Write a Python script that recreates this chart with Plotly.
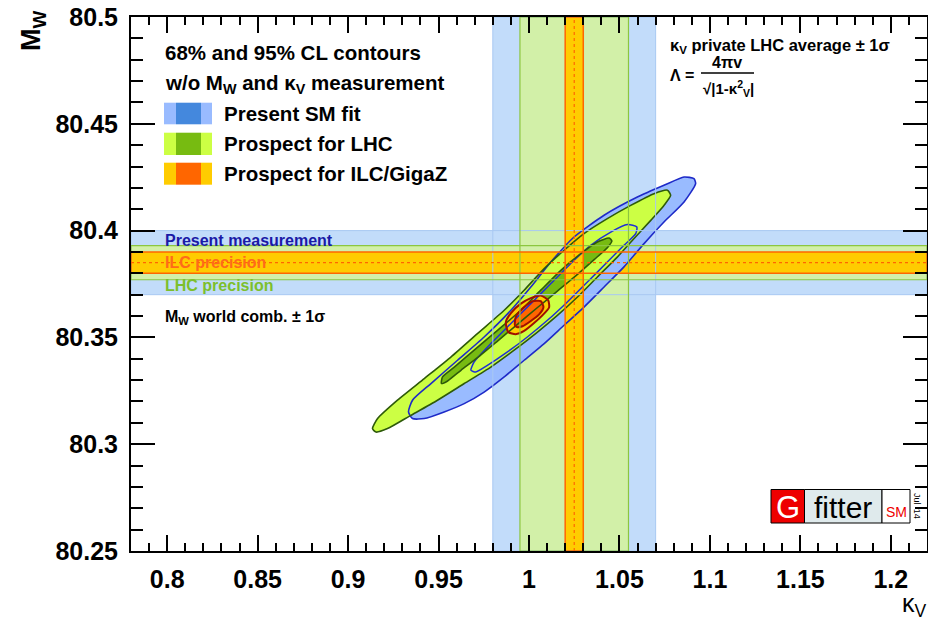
import plotly.graph_objects as go

# ---------------- data ----------------
k_range = [0.78, 1.22]
mw_range = [80.25, 80.5]
k_ticks = [0.8, 0.85, 0.9, 0.95, 1.0, 1.05, 1.1, 1.15, 1.2]
k_ticklabels = ["0.8", "0.85", "0.9", "0.95", "1", "1.05", "1.1", "1.15", "1.2"]
mw_ticks = [80.25, 80.3, 80.35, 80.4, 80.45, 80.5]
mw_ticklabels = ["80.25", "80.3", "80.35", "80.4", "80.45", "80.5"]

# M_W world combination +- 1 sigma and future precisions
mw_center = 80.385
mw_err_present = 0.015
mw_err_lhc = 0.008
mw_err_ilc = 0.005
# kappa_V private LHC average +- 1 sigma and future precisions
kv_center = 1.025
kv_err_present = 0.045
kv_err_lhc = 0.030
kv_err_ilc = 0.005

# Present SM fit, 95% CL contour
sm95_k = [1.0921, 1.0857, 1.0746, 1.0636, 1.0525, 1.0415, 1.0304, 1.0194, 1.0084, 0.9973,
          0.9863, 0.9752, 0.9642, 0.9531, 0.9421, 0.9356, 0.9334, 0.9356, 0.9458, 0.9605,
          0.9752, 0.9900, 1.0010, 1.0121, 1.0249, 1.0415, 1.0599, 1.0746, 1.0857, 1.0912]
sm95_mw = [80.4220, 80.4134, 80.4040, 80.3939, 80.3830, 80.3736, 80.3642, 80.3557, 80.3471, 80.3393,
           80.3315, 80.3244, 80.3190, 80.3151, 80.3120, 80.3120, 80.3151, 80.3206, 80.3284, 80.3393,
           80.3502, 80.3627, 80.3736, 80.3853, 80.3970, 80.4072, 80.4157, 80.4212, 80.4251, 80.4243]
# Present SM fit, 68% CL contour
sm68_k = [0.9679, 0.9697, 0.9789, 0.9900, 1.0010, 1.0121, 1.0231, 1.0341, 1.0452, 1.0544,
          1.0596, 1.0590, 1.0525, 1.0433, 1.0323, 1.0212, 1.0102, 0.9991, 0.9881, 0.9770, 0.9706]
sm68_mw = [80.3346, 80.3385, 80.3471, 80.3565, 80.3658, 80.3752, 80.3846, 80.3931, 80.3993, 80.4028,
           80.4017, 80.3986, 80.3931, 80.3853, 80.3759, 80.3666, 80.3580, 80.3502, 80.3432, 80.3369, 80.3338]
# Prospect for LHC, 95% CL contour
lhc95_k = [0.9135, 0.9163, 0.9273, 0.9421, 0.9568, 0.9715, 0.9863, 0.9973, 1.0084, 1.0194,
           1.0304, 1.0433, 1.0562, 1.0691, 1.0765, 1.0783, 1.0746, 1.0673, 1.0581, 1.0488,
           1.0378, 1.0268, 1.0157, 1.0047, 0.9918, 0.9789, 0.9642, 0.9494, 0.9347, 0.9218, 0.9154]
lhc95_mw = [80.3073, 80.3120, 80.3206, 80.3307, 80.3408, 80.3518, 80.3627, 80.3721, 80.3822, 80.3908,
            80.3986, 80.4056, 80.4118, 80.4173, 80.4189, 80.4165, 80.4118, 80.4048, 80.3963, 80.3876,
            80.3783, 80.3689, 80.3603, 80.3525, 80.3440, 80.3361, 80.3284, 80.3206, 80.3135, 80.3073, 80.3057]
# Prospect for LHC, 68% CL contour
lhc68_k = [0.9516, 0.9522, 0.9587, 0.9697, 0.9826, 0.9955, 1.0065, 1.0176, 1.0286, 1.0378, 1.0443,
           1.0458, 1.0433, 1.0360, 1.0268, 1.0157, 1.0047, 0.9936, 0.9826, 0.9715, 0.9624, 0.9550]
lhc68_mw = [80.3284, 80.3315, 80.3361, 80.3440, 80.3533, 80.3627, 80.3721, 80.3814, 80.3892, 80.3947, 80.3965,
            80.3951, 80.3920, 80.3864, 80.3795, 80.3717, 80.3640, 80.3561, 80.3483, 80.3405, 80.3346, 80.3296]
# Prospect for ILC/GigaZ, 95% CL contour
ilc95_k = [0.9885, 0.9872, 0.9900, 0.9955, 1.0010, 1.0065, 1.0106, 1.0111, 1.0074, 1.0028, 0.9973, 0.9927]
ilc95_mw = [80.3525, 80.3572, 80.3614, 80.3658, 80.3684, 80.3696, 80.3674, 80.3640, 80.3603, 80.3567, 80.3530, 80.3515]
# Prospect for ILC/GigaZ, 68% CL contour
ilc68_k = [0.9922, 0.9927, 0.9964, 1.0019, 1.0065, 1.0080, 1.0056, 1.0010, 0.9964, 0.9933]
ilc68_mw = [80.3557, 80.3596, 80.3635, 80.3669, 80.3670, 80.3642, 80.3608, 80.3577, 80.3552, 80.3549]

legend_labels = ["Present SM fit", "Prospect for LHC", "Prospect for ILC/GigaZ"]

# ---------------- styles ----------------
FONT = "Liberation Sans, Arial, Helvetica, sans-serif"
SM_LIGHT, SM_DARK, SM_LINE = "#99bbff", "#4488dd", "#1e2ac8"
LHC_LIGHT, LHC_DARK, LHC_LINE = "#ccff44", "#77bb11", "#2e5a0a"
ILC_LIGHT, ILC_DARK, ILC_LINE = "#ffcc00", "#ff6600", "#a01000"
BAND_BLUE, BAND_BLUE_EDGE = "#c2dcfa", "#a8c8f2"
BAND_GREEN, BAND_GREEN_EDGE = "#d2f0a8", "#8cc63f"
BAND_ORANGE, BAND_ORANGE_EDGE = "#ffcc00", "#ff6600"


def closed(xs, ys):
    return list(xs) + [xs[0]], list(ys) + [ys[0]]


def hrect(c, e):
    return ([k_range[0], k_range[1], k_range[1], k_range[0], k_range[0]],
            [c - e, c - e, c + e, c + e, c - e])


def vrect(c, e):
    return ([c - e, c + e, c + e, c - e, c - e],
            [mw_range[0], mw_range[0], mw_range[1], mw_range[1], mw_range[0]])


def fill(xy, color, spline=False):
    x, y = xy
    return go.Scatter(x=x, y=y, mode="lines", fill="toself", fillcolor=color,
                      line=dict(width=0, color=color, shape="spline" if spline else "linear",
                                smoothing=0.6),
                      hoverinfo="skip", showlegend=False)


def outline(xy, color, width, spline=False, dash="solid"):
    x, y = xy
    return go.Scatter(x=x, y=y, mode="lines",
                      line=dict(width=width, color=color, dash=dash,
                                shape="spline" if spline else "linear", smoothing=0.6),
                      hoverinfo="skip", showlegend=False)


fig = go.Figure()

# bands (fills)
fig.add_trace(fill(hrect(mw_center, mw_err_present), BAND_BLUE))
fig.add_trace(fill(vrect(kv_center, kv_err_present), BAND_BLUE))
fig.add_trace(fill(hrect(mw_center, mw_err_lhc), BAND_GREEN))
fig.add_trace(fill(vrect(kv_center, kv_err_lhc), BAND_GREEN))
fig.add_trace(fill(hrect(mw_center, mw_err_ilc), BAND_ORANGE))

# contour fills
contours = [
    (closed(sm95_k, sm95_mw), SM_LIGHT, SM_LINE, 1.6),
    (closed(sm68_k, sm68_mw), SM_DARK, "#1f2fd6", 1.5),
    (closed(lhc95_k, lhc95_mw), LHC_LIGHT, LHC_LINE, 1.6),
    (closed(lhc68_k, lhc68_mw), LHC_DARK, LHC_LINE, 1.6),
    (closed(ilc95_k, ilc95_mw), ILC_LIGHT, ILC_LINE, 2.0),
    (closed(ilc68_k, ilc68_mw), ILC_DARK, ILC_LINE, 2.0),
]
for xy, fc, lc, lw in contours:
    fig.add_trace(fill(xy, fc, spline=True))

# vertical ILC band above the fills
fig.add_trace(fill(vrect(kv_center, kv_err_ilc), BAND_ORANGE))

# contour outlines
for xy, fc, lc, lw in contours:
    fig.add_trace(outline(xy, lc, lw, spline=True))

# band edges
fig.add_trace(outline(hrect(mw_center, mw_err_present), BAND_BLUE_EDGE, 1))
fig.add_trace(outline(vrect(kv_center, kv_err_present), BAND_BLUE_EDGE, 1))
fig.add_trace(outline(hrect(mw_center, mw_err_lhc), BAND_GREEN_EDGE, 1.2))
fig.add_trace(outline(vrect(kv_center, kv_err_lhc), BAND_GREEN_EDGE, 1.2))
fig.add_trace(outline(hrect(mw_center, mw_err_ilc), BAND_ORANGE_EDGE, 1.5))
fig.add_trace(outline(vrect(kv_center, kv_err_ilc), BAND_ORANGE_EDGE, 1.5))
fig.add_trace(outline(([k_range[0], k_range[1]], [mw_center, mw_center]), BAND_ORANGE_EDGE, 1.2, dash="dot"))
fig.add_trace(outline(([kv_center, kv_center], [mw_range[0], mw_range[1]]), BAND_ORANGE_EDGE, 1.2, dash="dot"))

# ---------------- layout ----------------
# the page body adds an 8 px offset, so the figure is drawn 8 px smaller
OFF = 8
W, H = 936 - OFF, 623 - OFF
L, R, T, B = 131 - OFF, 9, 17 - OFF, 72
PW, PH = W - L - R, H - T - B


def px(x):
    return (x - (L + OFF)) / PW


def py(y):
    return (OFF + H - B - y) / PH


axis_common = dict(ticks="inside", tickwidth=1.5, tickcolor="black", showline=True,
                   linecolor="black", linewidth=2, mirror="ticks", showgrid=False,
                   zeroline=False, automargin=False, ticklabeloverflow="allow",
                   tickfont=dict(family=FONT, size=25, color="black", weight="bold"))

fig.update_layout(
    width=W, height=H, margin=dict(l=L, r=R, t=T, b=B, pad=0, autoexpand=False),
    paper_bgcolor="white", plot_bgcolor="white", showlegend=False,
    xaxis=dict(range=k_range, tickmode="array", tickvals=k_ticks, ticktext=k_ticklabels,
               ticklen=16, ticklabelstandoff=5,
               minor=dict(dtick=0.01, tick0=0.8, ticks="inside", ticklen=8, tickwidth=1.5,
                          tickcolor="black", showgrid=False),
               **axis_common),
    yaxis=dict(range=mw_range, tickmode="array", tickvals=mw_ticks, ticktext=mw_ticklabels,
               ticklen=24, ticklabelstandoff=6,
               minor=dict(dtick=0.01, tick0=80.25, ticks="inside", ticklen=12, tickwidth=1.5,
                          tickcolor="black", showgrid=False),
               **axis_common),
)

ann = []


def text(x, y, s, size, color="black", bold=True, xanchor="left", yanchor="middle", angle=0, family=FONT):
    ann.append(dict(xref="paper", yref="paper", x=px(x), y=py(y), text=s, showarrow=False,
                    xanchor=xanchor, yanchor=yanchor, textangle=angle,
                    font=dict(family=family, size=size, color=color,
                              weight="bold" if bold else "normal")))


# axis titles
text(33, 31, "M<sub>W</sub>", 27, angle=-90, xanchor="center", yanchor="middle")
text(929, 605, "κ<sub>V</sub>", 25, bold=False, xanchor="right")

# legend block
text(163, 52, "68% and 95% CL contours", 20.5)
text(163, 84, "w/o M<sub>W</sub> and κ<sub>V</sub> measurement", 20.5)
shapes = []
sw_rows = [(102.7, 124.3), (132.7, 155.0), (162.7, 184.7)]
sw_cols = [(SM_LIGHT, SM_DARK), (LHC_LIGHT, LHC_DARK), (ILC_LIGHT, ILC_DARK)]
for (y0, y1), (lc, dc), lab in zip(sw_rows, sw_cols, legend_labels):
    for (x0, x1), c in zip([(164, 176), (176, 201), (201, 212)], [lc, dc, lc]):
        shapes.append(dict(type="rect", xref="paper", yref="paper", x0=px(x0), x1=px(x1),
                           y0=py(y1), y1=py(y0), fillcolor=c, line=dict(width=0), layer="above"))
    text(222, (y0 + y1) / 2, lab, 20.5)

# band labels
text(163, 240.5, "Present measurement", 16, color="#1a1aa6")
text(163, 262.5, "ILC precision", 16, color="#ff6a1a")
text(163, 285.5, "LHC precision", 16, color="#7cbf2c")
text(163, 318, "M<sub>W</sub> world comb. ± 1σ", 16)

# kappa text
text(668, 46, "κ<sub>V</sub> private LHC average ± 1σ", 16.5)
text(668, 75, "Λ =", 16)
text(727, 63, "4πv", 16, xanchor="center")
shapes.append(dict(type="line", xref="paper", yref="paper", x0=px(701), x1=px(754),
                   y0=py(73), y1=py(73), line=dict(color="black", width=1.5), layer="above"))
text(728, 88, "√|1-κ<sup>2</sup><sub>V</sub>|", 15, xanchor="center")

# Gfitter logo
logo_boxes = [((771, 804.5), "#ee0000"), ((804.5, 882), "#dfeaec"), ((882, 910), "white")]
for (x0, x1), c in logo_boxes:
    shapes.append(dict(type="rect", xref="paper", yref="paper", x0=px(x0), x1=px(x1),
                       y0=py(523), y1=py(489.5), fillcolor=c,
                       line=dict(color="black", width=1), layer="above"))
text(788, 507, "G", 31, color="white", bold=False, xanchor="center")
text(843, 507, "fitter", 30, bold=False, xanchor="center")
text(896, 512, "SM", 14, color="#ee0000", bold=False, xanchor="center")
text(917, 506, "Jul '14", 9, bold=False, xanchor="center", angle=90)

fig.update_layout(annotations=ann, shapes=shapes)

fig.write_html("out.html")
